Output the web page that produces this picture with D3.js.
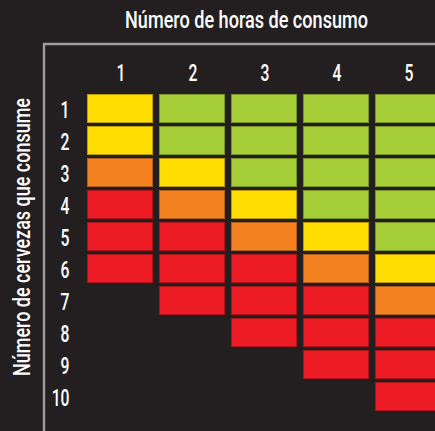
<!DOCTYPE html>
<html>
<head>
<meta charset="utf-8">
<script src="https://cdn.jsdelivr.net/npm/d3@7"></script>
<style>
  html, body { margin: 0; padding: 0; background: #231f20; overflow: hidden; }
  svg { display: block; }
  text { font-family: "Roboto", "Liberation Sans", sans-serif; font-weight: 500; fill: #ffffff; }
</style>
</head>
<body>
<script>
// ---- data ----
const hours = [1, 2, 3, 4, 5];                       // columns: número de horas de consumo
const beers = [1, 2, 3, 4, 5, 6, 7, 8, 9, 10];       // rows: número de cervezas
// risk level per column (index = beers - 1); "" = no cell
const col1 = ["Y", "Y", "O", "R", "R", "R", "", "", "", ""];
const col2 = ["G", "G", "Y", "O", "R", "R", "R", "", "", ""];
const col3 = ["G", "G", "G", "Y", "O", "R", "R", "R", "", ""];
const col4 = ["G", "G", "G", "G", "Y", "O", "R", "R", "R", ""];
const col5 = ["G", "G", "G", "G", "G", "Y", "O", "R", "R", "R"];
const columns = [col1, col2, col3, col4, col5];
const levels = ["G", "Y", "O", "R"];
const levelColors = ["#a6ce39", "#ffdd00", "#f58220", "#ed1c24"];
const titleX = "Número de horas de consumo";
const titleY = "Número de cervezas que consume";

const W = 435, H = 431;
const svg = d3.select("body").append("svg").attr("width", W).attr("height", H);
svg.append("rect").attr("width", W).attr("height", H).attr("fill", "#231f20");

const x = d3.scaleBand().domain(hours).range([87, 441]).paddingInner(6 / 72).paddingOuter(0);
const y = d3.scaleBand().domain(beers).range([94, 411]).paddingInner(3 / 32).paddingOuter(0);
const color = d3.scaleOrdinal().domain(levels).range(levelColors);

// frame
svg.append("path")
  .attr("d", `M44,${H + 2} L44,44 L${W + 2},44`)
  .attr("fill", "none").attr("stroke", "#9d9d9d").attr("stroke-width", 2.4);

// cells
const cells = [];
columns.forEach((col, ci) => col.forEach((lv, ri) => {
  if (lv) cells.push({ h: hours[ci], b: beers[ri], lv });
}));
svg.append("g").selectAll("rect").data(cells).join("rect")
  .attr("x", d => x(d.h) + 0.5)
  .attr("y", d => y(d.b) + 0.5)
  .attr("width", x.bandwidth() - 1)
  .attr("height", y.bandwidth() - 1)
  .attr("fill", d => color(d.lv))
  .attr("stroke", d => d3.color(color(d.lv)).darker(0.9))
  .attr("stroke-width", 1);

const squeeze = 0.64;
function condense(sel, factor) {
  sel.each(function () {
    const w = this.getComputedTextLength();
    d3.select(this).attr("textLength", w * factor).attr("lengthAdjust", "spacingAndGlyphs");
  });
}

// column labels
svg.append("g").selectAll("text").data(hours).join("text")
  .attr("x", d => x(d) + x.bandwidth() / 2 + 1)
  .attr("y", 80.5)
  .attr("text-anchor", "middle")
  .attr("font-size", 24.5)
  .text(d => d)
  .call(condense, squeeze);

// row labels
svg.append("g").selectAll("text").data(beers).join("text")
  .attr("x", 69.5)
  .attr("y", d => y(d) + y.bandwidth() / 2 + 9)
  .attr("text-anchor", "end")
  .attr("font-size", 24.5)
  .text(d => d)
  .call(condense, squeeze);

// titles
svg.append("text")
  .attr("x", 246.5).attr("y", 28)
  .attr("text-anchor", "middle")
  .attr("font-size", 24)
  .attr("textLength", 243).attr("lengthAdjust", "spacingAndGlyphs")
  .text(titleX);

svg.append("text")
  .attr("transform", "translate(29.5,237) rotate(-90)")
  .attr("text-anchor", "middle")
  .attr("font-size", 24)
  .attr("textLength", 278).attr("lengthAdjust", "spacingAndGlyphs")
  .text(titleY);
</script>
</body>
</html>
